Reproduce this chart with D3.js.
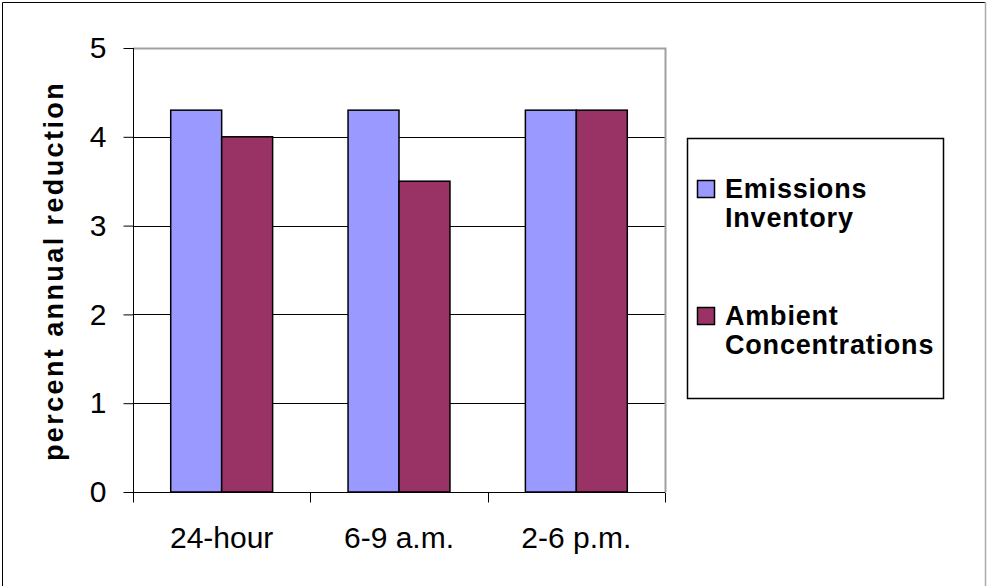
<!DOCTYPE html>
<html>
<head>
<meta charset="utf-8">
<script src="https://cdn.jsdelivr.net/npm/d3@7/dist/d3.min.js"></script>
<style>
  html, body { margin: 0; padding: 0; background: #fff; }
  svg { display: block; font-family: "Liberation Sans", Arial, sans-serif; }
</style>
</head>
<body>
<svg id="chart" width="987" height="586"></svg>
<script>
// Chart data
const categories = ["24-hour", "6-9 a.m.", "2-6 p.m."];
const seriesNames = ["Emissions Inventory", "Ambient Concentrations"];
const emissionsInventory = [4.3, 4.3, 4.3];
const ambientConcentrations = [4.0, 3.5, 4.3];
const yTicks = [0, 1, 2, 3, 4, 5];
const legendLines = [["Emissions", "Inventory"], ["Ambient", "Concentrations"]];

const seriesValues = [emissionsInventory, ambientConcentrations];
const colors = ["#9999FF", "#993366"];

const svg = d3.select("#chart");

// outer frame
svg.append("path")
  .attr("d", "M2.5,586V2.5H986")
  .attr("fill", "none").attr("stroke", "#000").attr("stroke-width", 1);
svg.append("line")
  .attr("x1", 985.5).attr("x2", 985.5).attr("y1", 2).attr("y2", 586)
  .attr("stroke", "#aaa").attr("stroke-width", 1.5);

const plot = { left: 133, top: 48, right: 665, bottom: 492 };

const x = d3.scaleBand()
  .domain(categories)
  .range([plot.left, plot.right])
  .paddingInner(0).paddingOuter(0);

const inner = d3.scaleBand()
  .domain(d3.range(seriesNames.length))
  .range([0, x.bandwidth()])
  .paddingInner(0)
  .paddingOuter(0.74);

const y = d3.scaleLinear().domain([0, 5]).range([plot.bottom, plot.top]);

// gridlines
svg.append("g")
  .selectAll("line")
  .data(yTicks.filter(t => t > 0 && t < 5))
  .join("line")
  .attr("x1", plot.left).attr("x2", plot.right)
  .attr("y1", d => Math.round(y(d)) + 0.5).attr("y2", d => Math.round(y(d)) + 0.5)
  .attr("stroke", "#000").attr("stroke-width", 1);

// plot area border (top and right)
svg.append("path")
  .attr("d", `M${plot.left},${plot.top + 0.5}H${plot.right + 0.5}V${plot.bottom}`)
  .attr("fill", "none").attr("stroke", "#a0a0a0").attr("stroke-width", 2);

// bars
const groups = svg.append("g")
  .selectAll("g")
  .data(seriesValues)
  .join("g")
  .attr("fill", (d, i) => colors[i]);

groups.selectAll("rect")
  .data((vals, si) => vals.map((v, ci) => ({ v, ci, si })))
  .join("rect")
  .attr("x", d => x(categories[d.ci]) + inner(d.si))
  .attr("y", d => y(d.v))
  .attr("width", inner.bandwidth())
  .attr("height", d => y(0) - y(d.v))
  .attr("stroke", "#000").attr("stroke-width", 1.5);

// y axis
const yAxis = d3.axisLeft(y).tickValues(yTicks).tickSize(10).tickPadding(17).tickFormat(d3.format("d"));
const gy = svg.append("g").attr("transform", `translate(${plot.left + 0.5},0)`).call(yAxis);
gy.select(".domain").attr("stroke", "#000").attr("d", `M0,${plot.top}V${plot.bottom}`);
gy.selectAll(".tick line").attr("stroke", "#000");
gy.selectAll(".tick text")
  .attr("font-size", 30).attr("fill", "#000")
  .attr("font-family", "Liberation Sans, Arial, sans-serif");

// x axis: ticks at category boundaries
const gx = svg.append("g").attr("transform", `translate(0,${plot.bottom + 0.5})`);
gx.append("line")
  .attr("x1", plot.left).attr("x2", plot.right)
  .attr("stroke", "#000");
const boundaries = categories.map(c => x(c)).concat([x(categories[categories.length - 1]) + x.bandwidth()]);
gx.selectAll(".bt")
  .data(boundaries)
  .join("line")
  .attr("class", "bt")
  .attr("x1", d => Math.round(d) + 0.5).attr("x2", d => Math.round(d) + 0.5)
  .attr("y1", 0).attr("y2", 10)
  .attr("stroke", "#000");
gx.selectAll("text")
  .data(categories)
  .join("text")
  .attr("x", d => x(d) + x.bandwidth() / 2)
  .attr("y", 55.5)
  .attr("text-anchor", "middle")
  .attr("font-size", 30)
  .attr("fill", "#000")
  .text(d => d);

// y axis title
svg.append("text")
  .attr("transform", `translate(63,271) rotate(-90)`)
  .attr("text-anchor", "middle")
  .attr("font-size", 27)
  .attr("font-weight", "bold")
  .attr("letter-spacing", 2.4)
  .attr("fill", "#000")
  .text("percent annual reduction");

// legend
const legend = svg.append("g");
legend.append("rect")
  .attr("x", 687.5).attr("y", 138.5)
  .attr("width", 256).attr("height", 260)
  .attr("fill", "#fff").attr("stroke", "#000").attr("stroke-width", 1.5);

const itemTop = [180, 307];
legendLines.forEach((lines, i) => {
  const g = legend.append("g");
  g.append("rect")
    .attr("x", 697.5).attr("y", itemTop[i] + 0.5)
    .attr("width", 17).attr("height", 17)
    .attr("fill", colors[i]).attr("stroke", "#000").attr("stroke-width", 1.5);
  g.selectAll("text")
    .data(lines)
    .join("text")
    .attr("x", 725)
    .attr("y", (d, j) => itemTop[i] + 18 + j * 29)
    .attr("font-size", 27)
    .attr("font-weight", "bold")
    .attr("letter-spacing", 0.8)
    .attr("fill", "#000")
    .text(d => d);
});
</script>
</body>
</html>
